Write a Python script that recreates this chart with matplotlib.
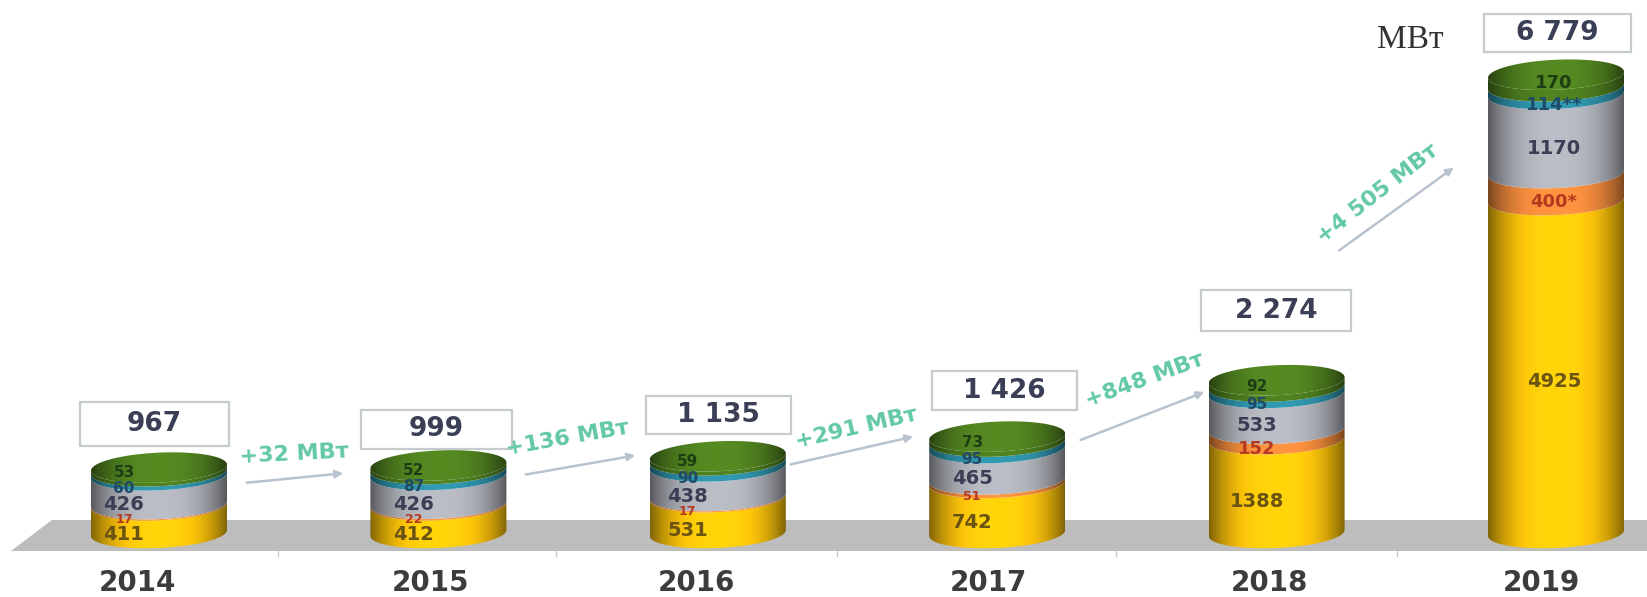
import numpy as np
import matplotlib
matplotlib.use("Agg")
import matplotlib.pyplot as plt
from matplotlib.colors import to_rgb
from matplotlib.patches import Polygon, Rectangle

W, H = 1647, 597

years = ["2014", "2015", "2016", "2017", "2018", "2019"]
yellow_mw = [411, 412, 531, 742, 1388, 4925]
orange_mw = [17, 22, 17, 51, 152, 400]
grey_mw = [426, 426, 438, 465, 533, 1170]
blue_mw = [60, 87, 90, 95, 95, 114]
green_mw = [53, 52, 59, 73, 92, 170]
totals = ["967", "999", "1 135", "1 426", "2 274", "6 779"]
deltas = ["+32 МВт", "+136 МВт", "+291 МВт", "+848 МВт", "+4 505 МВт"]

SERIES = [yellow_mw, orange_mw, grey_mw, blue_mw, green_mw]
COLORS = ["#FFC60A", "#F08A3C", "#AEB0B8", "#2E8FA6", "#4B7A1E"]
LABEL_COLORS = ["#6B5312", "#B5391F", "#3A3F55", "#1F4A68", "#1E3D14"]
LABEL_SIZES = [14, 9, 14, 11, 11]
SUFFIX = {(1, 5): "*", (3, 5): "**"}

# pixel layout
BASE_PX = 533
PX_PER_MW = 0.0676
CENTER0 = 159
STEP = 279.4
HALF_W = 68
ELL_B = 15
TILT = 3
LABEL_DX = [-35, -25, -30, -25, -20, -2]

BOXES = [(80, 402, 229, 446), (361, 410, 512, 449), (646, 396, 791, 434),
         (932, 371, 1077, 410), (1201, 290, 1351, 331), (1484, 14, 1631, 52)]
ARROWS = [((244, 483), (346, 473)), ((523, 475), (638, 455)), ((788, 465), (916, 436)),
          ((1078, 441), (1207, 391)), ((1337, 252), (1456, 166))]
DELTA_POS = [(294, 454, 3), (567, 438, 10), (856, 428, 13), (1145, 380, 20), (1378, 194, 38)]
YEAR_X = [137, 431, 696, 988, 1269, 1541]
TICK_X = [278, 556, 837, 1116, 1397]

fig = plt.figure(figsize=(W / 100, H / 100), dpi=100, facecolor="white")

# pixel-space layer: floor, boxes, arrows, captions
ax_px = fig.add_axes([0, 0, 1, 1], zorder=1)
ax_px.set_xlim(0, W)
ax_px.set_ylim(H, 0)
ax_px.axis("off")

ax_px.add_patch(Polygon([(11, 551), (52, 520), (W, 520), (W, 551)], fc="#BDBDBD", ec="none"))
for tx in TICK_X:
    ax_px.plot([tx, tx], [551, 556], color="#C9CBD0", lw=1)

for (x0, y0, x1, y1), total in zip(BOXES, totals):
    ax_px.add_patch(Rectangle((x0, y0), x1 - x0, y1 - y0, fc="white", ec="#C6CBD0", lw=1.6))
    ax_px.text((x0 + x1) / 2, (y0 + y1) / 2, total, ha="center", va="center",
               fontsize=19, fontweight="bold", color="#3A3F55")

for (start, end), text, (tx, ty, rot) in zip(ARROWS, deltas, DELTA_POS):
    ax_px.annotate("", xy=end, xytext=start,
                   arrowprops=dict(arrowstyle="-|>", color="#B8C3CF", lw=1.8, mutation_scale=11))
    ax_px.text(tx, ty, text, ha="center", va="center", rotation=rot, rotation_mode="anchor",
               fontsize=16, fontweight="bold", color="#62C8A8")

for x, year in zip(YEAR_X, years):
    ax_px.text(x, 583, year, ha="center", va="center", fontsize=20, fontweight="bold", color="#3C3C3C")

ax_px.text(1410, 40, "МВт", ha="center", va="center", fontsize=24,
           family="Liberation Serif", color="#333333")

# cylinders share one axes scaled in MW over category positions
ax = fig.add_axes([0, 0, 1, 1], zorder=2)
ax.patch.set_alpha(0)
ax.axis("off")
xlim = (-CENTER0 / STEP, (W - CENTER0) / STEP)
ylim = ((BASE_PX - H) / PX_PER_MW, BASE_PX / PX_PER_MW)

half_w = HALF_W / STEP
ell_b = ELL_B / PX_PER_MW
tilt = TILT / PX_PER_MW


def shade(color, width=300):
    # horizontal shading across the round face
    u = np.linspace(-1, 1, width)
    f = 0.50 + 0.58 * (1 - np.abs(u) ** 2.6)
    rgb = np.outer(f, to_rgb(color))
    return np.clip(rgb, 0, 1)[np.newaxis, :, :]


def arc(cx, level, t):
    x = cx + half_w * np.cos(t)
    y = level + tilt * np.cos(t) - ell_b * np.sin(t)
    return x, y


def draw_face(cx, lo, hi, color, z):
    t = np.linspace(0, np.pi, 60)
    x_lo, y_lo = arc(cx, lo, t)
    x_hi, y_hi = arc(cx, hi, t[::-1])
    verts = np.column_stack([np.r_[x_lo, x_hi], np.r_[y_lo, y_hi]])
    poly = Polygon(verts, fc="none", ec="none", transform=ax.transData)
    ax.add_patch(poly)
    pad = ell_b + tilt
    im = ax.imshow(shade(color), extent=(cx - half_w, cx + half_w, lo - pad, hi + pad),
                   aspect="auto", zorder=z, interpolation="bilinear")
    im.set_clip_path(poly)


for i, year in enumerate(years):
    level = 0
    for s, values in enumerate(SERIES):
        value = values[i]
        draw_face(i, level, level + value, COLORS[s], 3 + s)
        # the top band's label sits on the lid, the others on the front face
        drop = 3 if s == len(SERIES) - 1 else ELL_B
        size = 13 if value > 100 else LABEL_SIZES[s]
        ax.annotate(f"{value}{SUFFIX.get((s, i), '')}", xy=(i, level + value / 2),
                    xytext=(LABEL_DX[i], -drop), textcoords="offset pixels",
                    ha="center", va="center", fontsize=max(size, LABEL_SIZES[s]), fontweight="bold",
                    color=LABEL_COLORS[s], zorder=12)
        level += value

    # lid of the cylinder
    t = np.linspace(0, 2 * np.pi, 120)
    x_top, y_top = arc(i, level, t)
    lid = Polygon(np.column_stack([x_top, y_top]), fc="none", ec="none", transform=ax.transData)
    ax.add_patch(lid)
    pad = ell_b + tilt
    im = ax.imshow(shade("#4F801F"), extent=(i - half_w, i + half_w, level - pad, level + pad),
                   aspect="auto", zorder=9, interpolation="bilinear")
    im.set_clip_path(lid)

ax.set_xlim(xlim)
ax.set_ylim(ylim)

fig.savefig("out.png", dpi=100)
